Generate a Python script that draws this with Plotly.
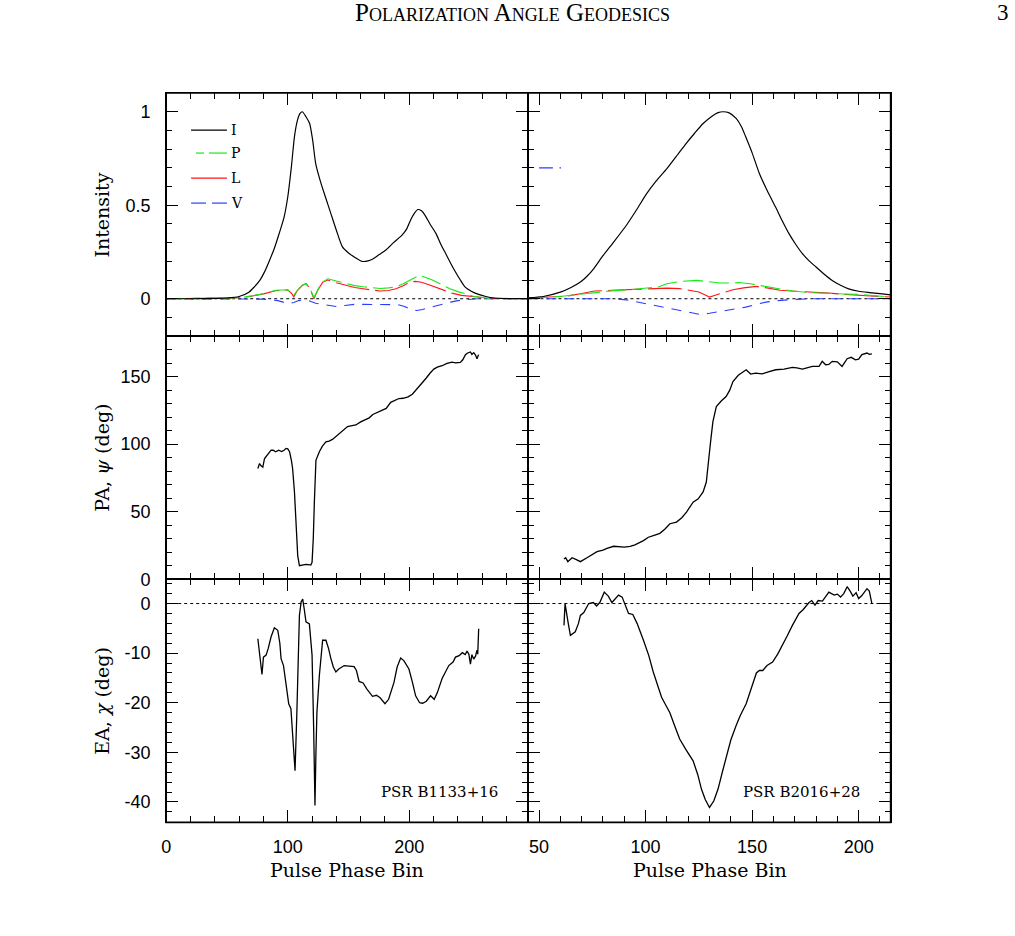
import plotly.graph_objects as go

# ---------------- data ----------------
# PSR B1133+16 (left column) -- intensity profiles
b1133_i_bin = [0, 20, 40, 50, 60, 68, 72, 77, 81, 85, 89, 93, 97, 100, 103, 105.5, 108, 110, 112, 115,
               118, 120.5, 123, 127, 131, 135.5, 140, 145, 150, 155, 161, 166, 170, 175, 181, 187, 194, 198,
               201, 204, 207, 210, 213, 217, 222, 226, 230, 234, 238, 242, 246, 251, 257, 263, 270, 280, 298]
b1133_i = [0, 0, 0.002, 0.004, 0.012, 0.035, 0.06, 0.098, 0.145, 0.205, 0.27, 0.35, 0.437, 0.544, 0.705,
           0.866, 0.955, 0.99, 1.0, 0.973, 0.937, 0.848, 0.723, 0.625, 0.544, 0.455, 0.366, 0.277, 0.245,
           0.222, 0.2, 0.202, 0.213, 0.235, 0.262, 0.30, 0.34, 0.375, 0.42, 0.455, 0.477, 0.47, 0.446, 0.40,
           0.348, 0.29, 0.241, 0.19, 0.143, 0.10, 0.062, 0.04, 0.023, 0.012, 0.004, 0.001, 0]

b1133_p_bin = [0, 50, 61, 70, 80, 90, 100, 103, 105, 108, 112, 115, 118, 121.5, 125, 129, 133, 140, 148,
               155, 162, 170, 176, 183, 189, 195, 200, 204, 208, 213, 219, 226, 233, 240, 246, 252, 257, 265, 298]
b1133_p = [0, 0.001, 0.005, 0.015, 0.027, 0.045, 0.048, 0.035, 0.02, 0.045, 0.072, 0.08, 0.06, 0.005, 0.05,
           0.09, 0.107, 0.095, 0.08, 0.07, 0.064, 0.058, 0.055, 0.058, 0.064, 0.08, 0.098, 0.115, 0.125,
           0.115, 0.1, 0.078, 0.055, 0.038, 0.025, 0.015, 0.009, 0.003, 0]

b1133_l_bin = [0, 50, 61, 70, 80, 90, 100, 103, 105, 108, 112, 115, 118, 121.5, 125, 129, 133, 140, 148,
               155, 162, 170, 176, 183, 189, 195, 200, 205, 210, 215, 220, 228, 235, 243, 250, 257, 265, 298]
b1133_l = [0, 0.001, 0.005, 0.014, 0.026, 0.043, 0.046, 0.03, 0.01, 0.045, 0.072, 0.08, 0.058, 0.0, 0.05,
           0.09, 0.1, 0.085, 0.072, 0.06, 0.053, 0.045, 0.041, 0.044, 0.053, 0.07, 0.088, 0.093, 0.088,
           0.078, 0.065, 0.045, 0.03, 0.018, 0.012, 0.007, 0.003, 0]

b1133_v_bin = [0, 70, 80, 85, 92, 98, 101, 105, 109, 113, 118, 123, 128, 134, 140, 147, 155, 162, 170, 178,
               185, 191, 196, 201, 206, 211, 216, 222, 228, 234, 240, 248, 256, 298]
b1133_v = [0, 0, -0.002, -0.006, -0.01, -0.022, -0.027, -0.02, -0.01, -0.006, -0.012, -0.024, -0.03,
           -0.038, -0.042, -0.036, -0.03, -0.03, -0.031, -0.03, -0.03, -0.032, -0.042, -0.055, -0.063,
           -0.058, -0.048, -0.04, -0.028, -0.018, -0.01, -0.004, 0, 0]

# PSR B2016+28 (right column) -- intensity profiles
b2016_i_bin = [45, 52, 60, 65, 69.4, 72.5, 75.6, 80, 85, 91, 96, 100.5, 105, 110, 115, 119, 123, 127, 131,
               134, 136.3, 139, 142.5, 145, 147, 150, 153.4, 157, 161, 164, 167.3, 170.5, 173.6, 177, 180,
               184, 187.6, 191.5, 195.3, 200, 205, 210, 215]
b2016_i = [0.005, 0.012, 0.035, 0.06, 0.089, 0.12, 0.16, 0.23, 0.303, 0.393, 0.48, 0.562, 0.63, 0.696,
           0.77, 0.83, 0.885, 0.937, 0.975, 0.995, 1.0, 0.995, 0.964, 0.92, 0.866, 0.78, 0.67, 0.58, 0.49,
           0.42, 0.348, 0.29, 0.241, 0.2, 0.17, 0.13, 0.098, 0.072, 0.053, 0.04, 0.033, 0.027, 0.021]

b2016_p_bin = [45, 55, 62, 70, 76, 84, 92, 100, 106, 110, 116, 124, 130, 135, 140, 144, 149, 154, 160,
               169, 177, 185, 193, 200, 207, 215]
b2016_p = [0.005, 0.008, 0.015, 0.025, 0.035, 0.042, 0.048, 0.055, 0.063, 0.08, 0.092, 0.098, 0.092,
           0.084, 0.084, 0.087, 0.08, 0.07, 0.058, 0.041, 0.033, 0.027, 0.025, 0.023, 0.016, 0.009]

b2016_l_bin = [45, 55, 62, 70, 76, 84, 92, 100, 110, 116, 121, 125, 128, 130, 133, 137, 141, 146, 152,
               157, 163, 170, 178, 186, 194, 202, 210, 215]
b2016_l = [0.005, 0.007, 0.012, 0.028, 0.041, 0.045, 0.048, 0.052, 0.057, 0.054, 0.046, 0.036, 0.02,
           0.009, 0.02, 0.035, 0.048, 0.058, 0.066, 0.058, 0.045, 0.04, 0.036, 0.03, 0.023, 0.017, 0.012,
           0.009]

b2016_v_bin = [45, 70, 80, 85, 91, 97, 103.6, 108, 111.4, 116, 121, 125.4, 130, 134, 137.8, 142, 147, 152,
               156.5, 162, 169, 180, 195, 215]
b2016_v = [0, -0.002, -0.003, 0.0, -0.006, -0.02, -0.036, -0.046, -0.054, -0.063, -0.075, -0.084, -0.078,
           -0.07, -0.066, -0.057, -0.045, -0.03, -0.018, -0.01, -0.004, 0, 0.001, 0]

# polarization angle psi (deg)
b1133_pa_bin = [75.4, 76.8, 78, 79.5, 80.9, 83, 86.3, 88, 90, 92.6, 95, 97, 98.6, 100, 101.5, 103, 104,
                105.5, 106.8, 108.2, 109.6, 112, 115, 117, 119, 120, 121, 121.9, 123.2, 126, 128.5, 131.4,
                134, 136.8, 139.5, 142.4, 146, 149.2, 152, 156, 160, 164, 167, 170, 174, 177.9, 181,
                184.7, 188, 191.5, 195, 199, 202.5, 205, 208, 210.7, 214, 217, 220.2, 223, 227, 231,
                235.2, 238, 242, 244, 246.2, 248, 250.3, 251.5, 253, 254.5, 255.7, 257]
b1133_pa = [82, 85.7, 84, 83, 89.4, 92, 95.6, 95.5, 94.4, 95.6, 94.6, 95.5, 96.9, 96.5, 94.4, 88, 82, 65,
            42, 17.5, 10, 10.5, 11, 10.8, 10.5, 12.5, 30, 57, 88, 94.4, 98.5, 101.8, 102.3, 103.5, 105.5,
            107.5, 110.5, 113, 113.5, 114.2, 116.5, 118, 119.5, 122, 123.5, 125.4, 126.5, 131, 132.5,
            133.8, 134, 135, 137, 139.5, 142.5, 145.2, 149, 152.5, 155.6, 157, 158.1, 159.8, 160.8,
            160.2, 160.5, 162.5, 166.3, 167.5, 168.3, 166.5, 167.8, 166, 163.3, 166.3]

b2016_pa_bin = [61.7, 62.5, 63.5, 65.5, 67.5, 69.4, 72.5, 75, 77.2, 80, 81.9, 85, 88, 90, 92.7, 95, 99,
                101.3, 104, 106.7, 109, 111.4, 114.5, 117, 119.2, 121, 122.3, 124.7, 127, 128.5, 129.3,
                130, 130.8, 131.6, 133.2, 135.5, 137.8, 139.5, 141, 143.5, 147.2, 149.3, 151.6, 154.7,
                158, 161.1, 165, 168.9, 171, 173.6, 178.3, 181.4, 182.9, 184.5, 186, 187.6, 190, 192.2,
                194.6, 196.5, 198.5, 200, 201.5, 203.9, 205, 206.2]
b2016_pa = [15, 16, 13, 15.9, 14.5, 13, 15.9, 18, 20.4, 21.5, 22.9, 24.4, 24, 23.8, 24.4, 25.5, 28.6,
            31.1, 32.5, 34, 37, 41.1, 42.3, 45.5, 49.7, 53.5, 57.1, 59.5, 64.6, 72, 82, 94.4, 106, 116.7,
            127.8, 132, 135.3, 140, 146.4, 151, 155.1, 151.9, 152.6, 152, 153.8, 155.1, 155.5, 156.8,
            156.5, 155.6, 157.6, 157.6, 161.3, 158.8, 159, 161.3, 161, 157.6, 163.3, 164.3, 162.5, 163,
            166.3, 167.5, 166.5, 166.8]

# ellipticity angle chi (deg)
b1133_ea_bin = [75.4, 76.5, 77.5, 78.8, 80, 82.2, 84, 86.3, 89, 91.8, 93.5, 94.5, 96.5, 98.6, 100.8,
                102.6, 104, 106, 107.5, 109.6, 111, 112.3, 113.5, 115, 117.8, 120, 121.3, 122.4, 123.2,
                124, 126, 128.7, 131.4, 133.5, 135.5, 137.5, 139.6, 142, 146.4, 150, 154.6, 156.5, 158.7,
                162, 165, 169.7, 173, 176, 180, 183, 185.5, 187.4, 190, 192.9, 195.5, 199.7, 202.5,
                205.2, 208.5, 211, 214, 217.5, 220.5, 223, 227, 232.5, 236, 238, 241, 243.6, 246, 247.5,
                249, 250.3, 251.5, 253, 254.5, 255.7, 256.3, 257.1]
b1133_ea = [-7.1, -9.5, -11.5, -14.3, -10.8, -10.4, -9, -6.7, -4.9, -5.4, -8, -11.1, -12.5, -15.8, -20.2,
            -21.2, -26, -33.7, -22, -2.4, 0.3, 0.9, -1, -3.7, -4.1, -10.4, -25, -40.7, -30, -21.9, -14.5,
            -7.4, -7.4, -9, -11.1, -12.8, -13.8, -13.2, -12.5, -12.6, -12.7, -13.5, -15.7, -16, -17.2,
            -18.7, -18.5, -19, -20.2, -19.3, -17.5, -15.9, -12.8, -11, -11.5, -13.2, -15.8, -18.6, -20,
            -20.1, -19.7, -18.6, -19.3, -18, -15.1, -12.5, -11.8, -10.8, -10.5, -9.9, -10.3, -9.6,
            -10.2, -12.2, -10.3, -11.2, -10.6, -9.4, -10.2, -5.1]

b2016_ea_bin = [61.7, 62.2, 63.5, 64.7, 67, 68.5, 69.4, 71, 73.3, 75.5, 77, 78.5, 80.6, 82.5, 84.2, 86,
                87.3, 89, 90.5, 92, 94, 96, 99, 101.5, 103.6, 105.5, 107.5, 109.5, 111.4, 113.5, 116,
                119, 122.3, 124.5, 126.2, 128, 130, 132, 134, 136, 137.8, 140, 142.5, 144.5, 147.2, 150,
                152, 153.4, 155, 157, 159.6, 162, 164.3, 166.5, 168.9, 172, 174, 176.7, 178, 179.5, 181,
                183, 186, 188.5, 190, 191.5, 193, 194.6, 196, 197.3, 198.8, 200, 201.5, 203.9, 205, 206.2]
b2016_ea = [-4.4, 0, -3.5, -6.4, -5.7, -4, -2.4, -1.8, 0, 0.2, -0.5, 0.2, 2.3, 1.5, 0.2, 1.2, 1.7, 1.3,
            -0.5, -2, -2.2, -4, -7.4, -10.5, -13.8, -16.5, -18.9, -20.5, -22, -24.5, -27.3, -29.5, -31.7,
            -34.5, -37.4, -39.5, -41.1, -39.8, -37.4, -34, -31, -27.5, -24.6, -22.5, -20.2, -16.5, -14,
            -13.5, -13.5, -12.5, -11.8, -10.2, -8.4, -6.5, -4.4, -2, -1.2, 0.2, 0.6, -0.3, 0.6, 0.5, 2.3,
            1.7, 1.9, 1.3, 2.0, 3.4, 2.5, 1.5, 2.2, 1.0, 1.6, 3.0, 2.5, 0]

# tick values / labels
int_ticks = [0, 0.5, 1]
int_labels = ["0", "0.5", "1"]
pa_ticks = [0, 50, 100, 150]
pa_labels = ["0", "50", "100", "150"]
ea_ticks = [0, -10, -20, -30, -40]
ea_labels = ["0", "-10", "-20", "-30", "-40"]
left_xticks = [0, 100, 200]
left_xlabels = ["0", "100", "200"]
right_xticks = [50, 100, 150, 200]
right_xlabels = ["50", "100", "150", "200"]
pulsar_names = ["PSR B1133+16", "PSR B2016+28"]
legend_names = ["I", "P", "L", "V"]

# ---------------- figure ----------------
W, H = 1015, 936
YS = 1.0112  # vertical compensation of the capture

def px(x):
    return x / W

def py(y):
    return 1 - y * YS / H

GREEN = "#17e817"
RED = "#ff1616"
BLUE = "#2a3cff"
SANS = "Liberation Sans, Arial, sans-serif"
SERIF = "DejaVu Serif, serif"

fig = go.Figure()

def add(x, y, n, color, width=1.2, dash=None, shape="linear"):
    sfx = "" if n == 1 else str(n)
    fig.add_trace(go.Scatter(x=x, y=y, mode="lines", xaxis="x" + sfx, yaxis="y" + sfx,
                             line=dict(color=color, width=width, dash=dash, shape=shape, smoothing=0.6),
                             showlegend=False, hoverinfo="skip"))

# top row: intensities
add(b1133_v_bin, b1133_v, 1, BLUE, 1.1, "10px,8px")
add(b1133_l_bin, b1133_l, 1, RED, 1.1, "34px,6px")
add(b1133_p_bin, b1133_p, 1, GREEN, 1.1, "20px,6px")
add(b1133_i_bin, b1133_i, 1, "black", 1.2, None, "spline")
add(b2016_v_bin, b2016_v, 2, BLUE, 1.1, "10px,8px")
add(b2016_l_bin, b2016_l, 2, RED, 1.1, "34px,6px")
add(b2016_p_bin, b2016_p, 2, GREEN, 1.1, "20px,6px")
add(b2016_i_bin, b2016_i, 2, "black", 1.2, None, "spline")
# middle row: PA
add(b1133_pa_bin, b1133_pa, 3, "black", 1.3)
add(b2016_pa_bin, b2016_pa, 4, "black", 1.3)
# bottom row: EA
add(b1133_ea_bin, b1133_ea, 5, "black", 1.3)
add(b2016_ea_bin, b2016_ea, 6, "black", 1.3)

FX = [162, 526, 890]
FY = [93, 336, 579, 822]
xdom = {"L": [px(FX[0]), px(FX[1])], "R": [px(FX[1]), px(FX[2])]}
ydom = {r: [py(FY[r + 1]), py(FY[r])] for r in range(3)}

def base_axis():
    return dict(showline=True, linecolor="black", linewidth=1, mirror="ticks", ticks="inside",
                ticklen=12, tickwidth=1.2, tickcolor="black", showgrid=False, zeroline=False,
                tickfont=dict(family=SANS, size=18, color="black"),
                minor=dict(ticks="inside", ticklen=6, tickwidth=1.2, tickcolor="black", showgrid=False))

layout = {}
for n in range(1, 7):
    row = (n - 1) // 2
    col = "L" if n % 2 == 1 else "R"
    sfx = "" if n == 1 else str(n)
    xa = base_axis()
    xa.update(domain=xdom[col], anchor="y" + sfx)
    if col == "L":
        xa.update(range=[0, 298], tickmode="array", tickvals=left_xticks, ticktext=left_xlabels)
        xa["minor"].update(tickmode="linear", tick0=0, dtick=20)
    else:
        xa.update(range=[45, 215], tickmode="array", tickvals=right_xticks, ticktext=right_xlabels)
        xa["minor"].update(tickmode="linear", tick0=0, dtick=10)
    xa["showticklabels"] = row == 2
    xa["ticklabelstandoff"] = 8
    ya = base_axis()
    ya.update(domain=ydom[row], anchor="x" + sfx)
    if row == 0:
        ya.update(range=[-0.2, 1.1], tickmode="array", tickvals=int_ticks, ticktext=int_labels)
        ya["minor"].update(tickmode="linear", tick0=0, dtick=0.1)
    elif row == 1:
        ya.update(range=[0, 180], tickmode="array", tickvals=pa_ticks, ticktext=pa_labels)
        ya["minor"].update(tickmode="linear", tick0=0, dtick=10)
    else:
        ya.update(range=[-44.1, 4.9], tickmode="array", tickvals=ea_ticks, ticktext=ea_labels)
        ya["minor"].update(tickmode="linear", tick0=0, dtick=2)
    ya["showticklabels"] = col == "L"
    ya["ticklabelstandoff"] = 11
    layout["xaxis" + sfx] = xa
    layout["yaxis" + sfx] = ya

shapes = []
# outer frame
shapes.append(dict(type="rect", xref="paper", yref="paper", x0=px(FX[0]), x1=px(FX[2]),
                   y0=py(FY[3]), y1=py(FY[0]), line=dict(color="black", width=1.6)))
# dotted zero lines
for n in (1, 2, 5, 6):
    sfx = "" if n == 1 else str(n)
    shapes.append(dict(type="line", xref="x" + sfx + " domain", yref="y" + sfx, x0=0, x1=1, y0=0, y1=0,
                       line=dict(color="black", width=1, dash="dot"), layer="below"))

# legend samples (top-left panel)
leg_y = [130, 153, 178, 203]

def seg(x0, x1, y, color):
    shapes.append(dict(type="line", xref="paper", yref="paper", x0=px(x0), x1=px(x1), y0=py(y), y1=py(y),
                       line=dict(color=color, width=1.2)))

seg(187, 223, leg_y[0], "black")
seg(192, 200, leg_y[1], GREEN)
seg(205, 223, leg_y[1], GREEN)
seg(187, 223, leg_y[2], RED)
seg(187, 202, leg_y[3], BLUE)
seg(208, 223, leg_y[3], BLUE)
# stray legend dash in top-right panel
shapes.append(dict(type="line", xref="x2", yref="y2", x0=50, x1=56.5, y0=0.70, y1=0.70,
                   line=dict(color=BLUE, width=1.2)))
shapes.append(dict(type="line", xref="x2", yref="y2", x0=59.6, x1=60.3, y0=0.70, y1=0.70,
                   line=dict(color=BLUE, width=1.2)))

annotations = []

def text(x, y, s, size, family=SERIF, xanchor="center", angle=0, variant=None):
    f = dict(family=family, size=size, color="black")
    if variant:
        f["variant"] = variant
    annotations.append(dict(x=px(x), y=py(y), xref="paper", yref="paper", text=s, showarrow=False,
                            xanchor=xanchor, yanchor="middle", textangle=angle, font=f))

for name, y in zip(legend_names, leg_y):
    text(225, y, name, 14, xanchor="left")

text(510, 12, "Polarization Angle Geodesics", 25, family="Liberation Serif, serif", variant="small-caps")
text(1003, 12, "3", 23, family="Liberation Serif, serif")
text(98, 215, "Intensity", 19, angle=-90)
text(98, 458, "PA, <i>ψ</i> (deg)", 19, angle=-90)
text(98, 701, "EA, <i>χ</i> (deg)", 19, angle=-90)
text(344, 870, "Pulse Phase Bin", 19)
text(708, 870, "Pulse Phase Bin", 19)
text(497, 792, pulsar_names[0], 15, xanchor="right")
text(861, 792, pulsar_names[1], 15, xanchor="right")

fig.update_layout(width=W, height=H, margin=dict(l=0, r=0, t=0, b=0), paper_bgcolor="white",
                  plot_bgcolor="white", showlegend=False, shapes=shapes, annotations=annotations,
                  **layout)

fig.write_html("out.html")
